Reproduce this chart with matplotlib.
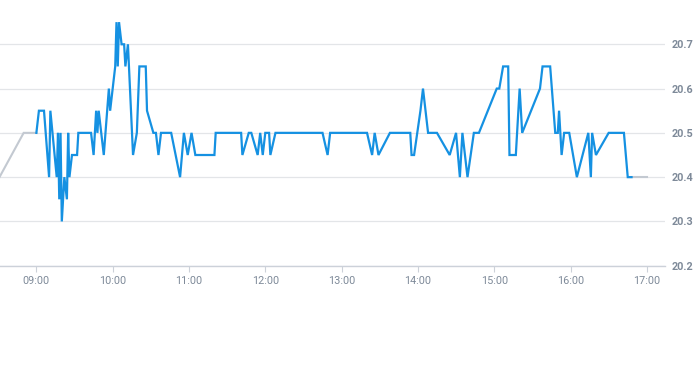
import matplotlib
matplotlib.use("Agg")
import matplotlib.pyplot as plt

# ---- data ----
times = ["09:00", "09:02", "09:06", "09:10", "09:11", "09:16", "09:17", "09:18", "09:19", "09:20",
         "09:22", "09:24", "09:25", "09:26", "09:28", "09:32", "09:33", "09:43", "09:45", "09:47",
         "09:48", "09:49", "09:53", "09:57", "09:58", "10:02", "10:03", "10:04", "10:05", "10:07",
         "10:09", "10:10", "10:12", "10:16", "10:19", "10:21", "10:26", "10:27", "10:32", "10:34",
         "10:36", "10:38", "10:46", "10:53", "10:56", "10:59", "11:02", "11:05", "11:20", "11:21",
         "11:41", "11:42", "11:47", "11:49", "11:54", "11:56", "11:58", "12:00", "12:03", "12:04",
         "12:08", "12:45", "12:49", "12:51", "13:20", "13:24", "13:26", "13:29", "13:38", "13:54",
         "13:55", "13:57", "14:02", "14:04", "14:08", "14:15", "14:25", "14:30", "14:33", "14:35",
         "14:39", "14:44", "14:48", "15:02", "15:04", "15:07", "15:11", "15:12", "15:17", "15:20",
         "15:22", "15:36", "15:38", "15:44", "15:48", "15:50", "15:51", "15:53", "15:55", "15:59",
         "16:05", "16:14", "16:16", "16:17", "16:20", "16:30", "16:42", "16:45", "16:48"]
prices = [20.50, 20.55, 20.55, 20.40, 20.55, 20.40, 20.50, 20.35, 20.50, 20.30,
          20.40, 20.35, 20.50, 20.40, 20.45, 20.45, 20.50, 20.50, 20.45, 20.55,
          20.50, 20.55, 20.45, 20.60, 20.55, 20.65, 20.75, 20.65, 20.75, 20.70,
          20.70, 20.65, 20.70, 20.45, 20.50, 20.65, 20.65, 20.55, 20.50, 20.50,
          20.45, 20.50, 20.50, 20.40, 20.50, 20.45, 20.50, 20.45, 20.45, 20.50,
          20.50, 20.45, 20.50, 20.50, 20.45, 20.50, 20.45, 20.50, 20.50, 20.45,
          20.50, 20.50, 20.45, 20.50, 20.50, 20.45, 20.50, 20.45, 20.50, 20.50,
          20.45, 20.45, 20.55, 20.60, 20.50, 20.50, 20.45, 20.50, 20.40, 20.50,
          20.40, 20.50, 20.50, 20.60, 20.60, 20.65, 20.65, 20.45, 20.45, 20.60,
          20.50, 20.60, 20.65, 20.65, 20.50, 20.50, 20.55, 20.45, 20.50, 20.50,
          20.40, 20.50, 20.40, 20.50, 20.45, 20.50, 20.50, 20.40, 20.40]

pre_times = ["08:31", "08:50", "09:00"]
pre_prices = [20.40, 20.50, 20.50]
post_times = ["16:48", "17:00"]
post_prices = [20.40, 20.40]

x_ticks = ["09:00", "10:00", "11:00", "12:00", "13:00", "14:00", "15:00", "16:00", "17:00"]
y_ticks = [20.2, 20.3, 20.4, 20.5, 20.6, 20.7]
y_tick_labels = ["20.2", "20.3", "20.4", "20.5", "20.6", "20.7"]


def to_min(t):
    h, m = t.split(":")
    return int(h) * 60 + int(m)


fig = plt.figure(figsize=(6.93, 3.65), dpi=100)
ax = fig.add_axes([0.0, 0.272, 665 / 693, 0.728])

ax.plot([to_min(t) for t in pre_times], pre_prices, color="#c3c9d1", lw=1.5, solid_joinstyle="miter")
ax.plot([to_min(t) for t in post_times], post_prices, color="#c3c9d1", lw=1.5)
ax.plot([to_min(t) for t in times], prices, color="#1591e2", lw=1.6, solid_joinstyle="miter")

ax.set_xlim(8 * 60 + 31.4, 17 * 60 + 14.3)
ax.set_ylim(20.2, 20.8)

ax.set_xticks([to_min(t) for t in x_ticks])
ax.set_xticklabels(x_ticks)
ax.set_yticks(y_ticks)
ax.set_yticklabels(y_tick_labels)

ax.yaxis.tick_right()
for s in ["left", "right", "top"]:
    ax.spines[s].set_visible(False)
ax.spines["bottom"].set_color("#ccd1d9")
ax.spines["bottom"].set_linewidth(1.0)

ax.grid(axis="y", color="#e3e5e8", lw=0.9)
ax.set_axisbelow(True)

ax.tick_params(axis="x", length=4, color="#ccd1d9", pad=3.5, labelsize=7.8, labelcolor="#7e8a99")
ax.tick_params(axis="y", length=0, pad=5, labelsize=7.8, labelcolor="#7e8a99")
for lab in ax.get_xticklabels() + ax.get_yticklabels():
    lab.set_fontfamily("Roboto")
for lab in ax.get_yticklabels():
    lab.set_fontweight("bold")

fig.savefig("out.png", dpi=100)
